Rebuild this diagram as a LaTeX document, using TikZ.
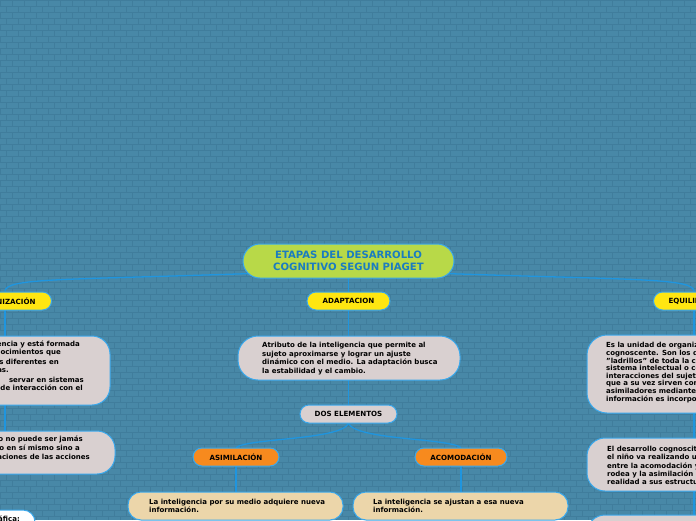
\documentclass[tikz,border=0pt]{standalone}
\usepackage{fontspec}
\setmainfont{DejaVu Sans}
\usetikzlibrary{calc}
\definecolor{bgblue}{HTML}{4888A7}
\definecolor{brick}{HTML}{407D9C}
\definecolor{lineblue}{HTML}{1F95DF}
\definecolor{bordc}{HTML}{3AA8EC}
\definecolor{greenf}{HTML}{B8D948}
\definecolor{titleblue}{HTML}{1B7CC0}
\definecolor{yel}{HTML}{FFE611}
\definecolor{ora}{HTML}{F78A1E}
\definecolor{greyf}{HTML}{D9D0D0}
\definecolor{beige}{HTML}{ECD6AA}
\pgfdeclarelayer{back}
\pgfdeclarelayer{lines}
\pgfsetlayers{back,lines,main}
\newcommand\bxf{\fontsize{7}{8.4}\selectfont\bfseries}
\newcommand\plf{\fontsize{7.1}{8}\selectfont\bfseries}
\tikzset{
  titlest/.style={draw=bordc, line width=1, fill=greenf, rounded corners=17, minimum width=211, minimum height=34, align=center, text=titleblue, font=\fontsize{10.1}{12}\selectfont\bfseries, inner sep=0},
  pill/.style={draw=bordc, line width=1, rounded corners=9, minimum height=18, inner ysep=0, font=\plf, text=black},
  boxst/.style={draw=bordc, line width=1, inner sep=0},
  txt/.style={inner sep=0, align=left, font=\bxf, text=black},
  frag/.style={anchor=east, inner sep=0, font=\bxf, text=black},
  conn/.style={draw=lineblue, line width=1.3}
}
\begin{document}
\begin{tikzpicture}[x=1pt,y=-1pt]
\useasboundingbox (0,0) rectangle (696,520);
\clip (0,0) rectangle (696,520);
\begin{pgfonlayer}{back}
\fill[bgblue] (0,0) rectangle (696,520);
\foreach \r in {0,6,...,516} \draw[brick, line width=0.5] (0,\r) -- (696,\r);
\foreach \c in {0,12,...,696} \draw[brick, line width=0.5, dash pattern=on 6pt off 6pt] (\c,0) -- (\c,520);
\foreach \c in {6,18,...,696} \draw[brick, line width=0.5, dash pattern=on 6pt off 6pt, dash phase=6pt] (\c,0) -- (\c,520);
\end{pgfonlayer}

% title
\node[titlest] (main) at (348.5,261) {ETAPAS DEL DESARROLLO\\COGNITIVO SEGUN PIAGET};

% level 1
\node[pill, fill=yel, minimum width=83] (adapt) at (348.5,301) {ADAPTACION};
\node[pill, fill=yel, anchor=east, inner xsep=16] (org) at (52,301) {ORGANIZACIÓN};
\node[pill, fill=yel, anchor=west, inner xsep=15] (equ) at (653,301) {EQUILIBRIO};

% centre column
\node[boxst, fill=greyf, rounded corners=20, minimum width=222, minimum height=44] (cbox) at (349,358) {};
\node[txt, anchor=west] (ctext) at (262,358.5) {Atributo de la inteligencia que permite al\\sujeto aproximarse y lograr un ajuste\\dinámico con el medio. La adaptación busca\\la estabilidad y el cambio.};
\node[pill, fill=greyf, minimum width=97] (dos) at (348.5,414) {DOS ELEMENTOS};
\node[pill, fill=ora, minimum width=86] (asim) at (236,457) {ASIMILACIÓN};
\node[pill, fill=ora, minimum width=92] (acom) at (461,457) {ACOMODACIÓN};
\node[boxst, fill=beige, rounded corners=13, minimum width=215, minimum height=28] (abox) at (235.5,506) {};
\node[txt, anchor=west] (atext) at (149,506) {La inteligencia por su medio adquiere nueva\\información.};
\node[boxst, fill=beige, rounded corners=13, minimum width=215, minimum height=28] (bbox) at (460.5,506) {};
\node[txt, anchor=west] (btext) at (373,506) {La inteligencia se ajustan a esa nueva\\información.};

% left column
\node[boxst, fill=greyf, rounded corners=18, minimum width=170, minimum height=69] (lb1) at (25,370.5) {};
\node[frag] (l1a) at (80,344) {encia y está formada};
\node[frag] (l1b) at (61,353) {nocimientos que};
\node[frag] (l1c) at (59,362) {s diferentes en};
\node[frag] (l1d) at (9,371) {as.};
\node[frag] (l1e) at (84,379.5) {servar en sistemas};
\node[frag] (l1f) at (83,388) {de interacción con el};
\node[boxst, fill=greyf, rounded corners=18, minimum width=175, minimum height=43] (lb2) at (27.5,452.5) {};
\node[frag] (l2a) at (83,439.5) {o no puede ser jamás};
\node[frag] (l2b) at (80,448) {o en sí mismo sino a};
\node[frag] (l2c) at (90,456.5) {aciones de las acciones};
\node[boxst, fill=white, rounded corners=12, minimum width=95, minimum height=30] (lb3) at (-12.5,525) {};
\node[frag] (l3a) at (20,518.5) {áfica:};

% right column
\node[boxst, fill=greyf, rounded corners=20, minimum width=213, minimum height=78] (rb1) at (693.5,374) {};
\node[txt, anchor=west, font=\fontsize{7}{7.6}\selectfont\bfseries] (r1text) at (606,372.5) {Es la unidad de organización en el sujeto\\cognoscente. Son los denominados\\"ladrillos" de toda la construcción del\\sistema intelectual o cognitivo, regulan las\\interacciones del sujeto con la realidad, ya\\que a su vez sirven como marcos\\asimiladores mediante los cuales la nueva\\información es incorporada en la persona.};
\node[boxst, fill=greyf, rounded corners=18, minimum width=213, minimum height=53] (rb2) at (693.5,464.5) {};
\node[txt, anchor=west, font=\fontsize{7}{8.2}\selectfont\bfseries] (r2text) at (607,465.5) {El desarrollo cognoscitivo comienza cuando\\el niño va realizando un equilibrio interno\\entre la acomodación y el medio que lo\\rodea y la asimilación de esta misma\\realidad a sus estructuras.};
\node[boxst, fill=greyf, rounded corners=18, minimum width=213, minimum height=45] (rb3) at (693.5,537.5) {};

% connectors
\begin{pgfonlayer}{lines}
\coordinate (orgx) at (5,0);
\coordinate (equx) at (694,0);
\draw[conn] ($(main.south west)+(10,-5)$) .. controls (60,280) and (5,278) .. (orgx |- org.north);
\draw[conn] ($(main.south east)+(-10,-5)$) .. controls (637,280) and (694,278) .. (equx |- equ.north);
\draw[conn] (orgx |- org.center) -- (orgx |- lb2.center);
\draw[conn] (equx |- equ.center) -- (equx |- rb3.center);
\draw[conn] (main.center) -- (main.center |- dos.center);
\draw[conn] (dos.south) .. controls (340,440) and (250,438) .. (asim.north);
\draw[conn] (dos.south) .. controls (357,440) and (447,438) .. (acom.north);
\draw[conn] (asim.center) -- (asim.center |- abox.center);
\draw[conn] (acom.center) -- (acom.center |- bbox.center);
\end{pgfonlayer}
\end{tikzpicture}
\end{document}
